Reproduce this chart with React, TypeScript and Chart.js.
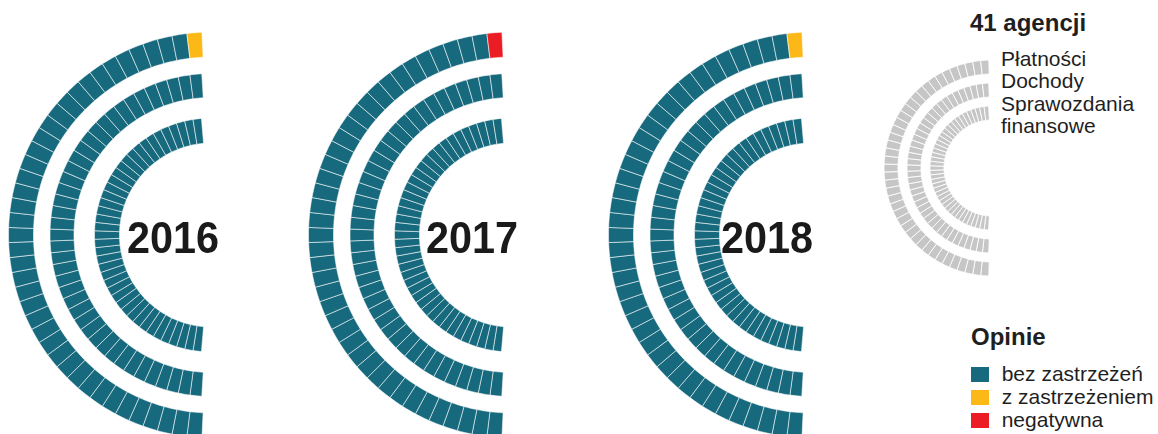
import React, { useEffect, useRef } from "react";
import { Chart, registerables } from "chart.js";

Chart.register(...registerables);

// ---------- data ----------
const YEARS = ["2016", "2017", "2018"];
const AREAS = ["Płatności", "Dochody", "Sprawozdania", "finansowe"];
const LEGEND_TITLE = "41 agencji";
const OPINION_TITLE = "Opinie";
const OPINION_LABELS = ["bez zastrzeżeń", "z zastrzeżeniem", "negatywna"];
const OPINION_COLORS = ["#17697d", "#fcb817", "#ec1c24"];
const AGENCY_COUNT = 41;

// number of agencies per opinion: [bez zastrzeżeń, z zastrzeżeniem, negatywna]
const payments2016 = [40, 1, 0];
const revenue2016 = [41, 0, 0];
const statements2016 = [41, 0, 0];

const payments2017 = [40, 0, 1];
const revenue2017 = [41, 0, 0];
const statements2017 = [41, 0, 0];

const payments2018 = [40, 1, 0];
const revenue2018 = [41, 0, 0];
const statements2018 = [41, 0, 0];

const YEAR_RINGS = [
  [payments2016, revenue2016, statements2016],
  [payments2017, revenue2017, statements2017],
  [payments2018, revenue2018, statements2018],
];

const GREY = "#c6c6c6";

// ---------- layout ----------
const FONT = '"Liberation Sans", Arial, Helvetica, sans-serif';
const TEXT = "#1f1f1f";

type Geom = {
  cx: number;
  cy: number;
  rOuter: number;
  layers: number[]; // ring, gap, ring, gap, ring (thickness, outer -> inner)
  endGap: number;
  w: number;
  h: number;
  border: string;
};

const MAIN_CENTERS = [211, 511, 811];
const YEAR_TEXT_CX = [173, 471.5, 766.5];

const mainGeom = (cx: number): Geom => ({
  cx,
  cy: 235,
  rOuter: 203,
  layers: [25, 16.5, 24, 20.5, 25],
  endGap: 9,
  w: 222,
  h: 470,
  border: "rgba(255,255,255,0.55)",
});

const legendGeom: Geom = {
  cx: 992,
  cy: 168,
  rOuter: 108,
  layers: [14, 9, 14, 9, 14],
  endGap: 3,
  w: 120,
  h: 240,
  border: "rgba(255,255,255,0.85)",
};

function colorsTopFirst(counts: number[], grey: boolean): string[] {
  const out: string[] = [];
  const order = [2, 1, 0];
  for (const k of order) {
    for (let i = 0; i < counts[k]; i++) out.push(grey ? GREY : OPINION_COLORS[k]);
  }
  return out;
}

function Rings({ geom, rings, grey }: { geom: Geom; rings: number[][]; grey: boolean }) {
  const ref = useRef<HTMLCanvasElement>(null);
  useEffect(() => {
    const datasets: any[] = [];
    let r = geom.rOuter;
    let ringIdx = 0;
    geom.layers.forEach((t, i) => {
      const isRing = i % 2 === 0;
      if (isRing) {
        const counts = rings[ringIdx++];
        const cols = colorsTopFirst(counts, grey).reverse();
        const rMid = r - t / 2;
        const delta = (Math.asin(geom.endGap / rMid) * 180) / Math.PI;
        datasets.push({
          data: cols.map(() => 1),
          backgroundColor: cols,
          borderColor: geom.border,
          borderWidth: 1,
          weight: t,
          rotation: 180 + delta,
          circumference: 180 - 2 * delta,
        });
      } else {
        datasets.push({
          data: [1],
          backgroundColor: "rgba(0,0,0,0)",
          borderWidth: 0,
          weight: t,
          rotation: 180,
          circumference: 180,
        });
      }
      r -= t;
    });
    const inner = r;
    const chart = new Chart(ref.current!, {
      type: "doughnut",
      data: { datasets },
      options: {
        responsive: false,
        animation: false,
        events: [],
        radius: geom.rOuter,
        cutout: `${(inner / geom.rOuter) * 100}%`,
        layout: { padding: 0 },
        plugins: { legend: { display: false }, tooltip: { enabled: false } },
      } as any,
    });
    return () => chart.destroy();
  }, []);
  const left = geom.cx - (geom.w / 2 + geom.rOuter / 2);
  const top = geom.cy - geom.h / 2;
  return (
    <canvas
      ref={ref}
      width={geom.w}
      height={geom.h}
      style={{ position: "absolute", left, top, width: geom.w, height: geom.h, display: "block" }}
    />
  );
}

const abs = (left: number, top: number, extra: React.CSSProperties = {}): React.CSSProperties => ({
  position: "absolute",
  left,
  top,
  whiteSpace: "nowrap",
  fontFamily: FONT,
  color: TEXT,
  ...extra,
});

export default function App() {
  const legendGreyRings = [
    [AGENCY_COUNT, 0, 0],
    [AGENCY_COUNT, 0, 0],
    [AGENCY_COUNT, 0, 0],
  ];
  return (
    <div
      style={{
        position: "absolute",
        left: 0,
        top: 0,
        width: 1158,
        height: 434,
        overflow: "hidden",
        background: "#fff",
      }}
    >
      {YEARS.map((y, i) => (
        <React.Fragment key={y}>
          <Rings geom={mainGeom(MAIN_CENTERS[i])} rings={YEAR_RINGS[i]} grey={false} />
          <div
            style={abs(YEAR_TEXT_CX[i] - 100, 214.9, {
              width: 200,
              textAlign: "center",
              fontSize: 45,
              lineHeight: "45px",
              fontWeight: 700,
              color: "#1a1a1a",
              transform: "scaleX(0.92)",
            })}
          >
            {y}
          </div>
        </React.Fragment>
      ))}

      <Rings geom={legendGeom} rings={legendGreyRings} grey={true} />

      <div style={abs(970, 11.4, { fontSize: 24, lineHeight: "24px", fontWeight: 700 })}>{LEGEND_TITLE}</div>
      {AREAS.map((a, i) => (
        <div key={a} style={abs(1001, 47.5 + i * 22.5, { fontSize: 21, lineHeight: "22.5px" })}>
          {a}
        </div>
      ))}

      <div style={abs(971, 325.4, { fontSize: 24, lineHeight: "24px", fontWeight: 700 })}>{OPINION_TITLE}</div>
      {OPINION_LABELS.map((l, i) => (
        <React.Fragment key={l}>
          <div
            style={{
              position: "absolute",
              left: 971,
              top: 366.7 + i * 23.3,
              width: 18,
              height: 15,
              background: OPINION_COLORS[i],
            }}
          />
          <div style={abs(1001.7, 361.5 + i * 23.3, { fontSize: 21, lineHeight: "23px" })}>{l}</div>
        </React.Fragment>
      ))}
    </div>
  );
}
